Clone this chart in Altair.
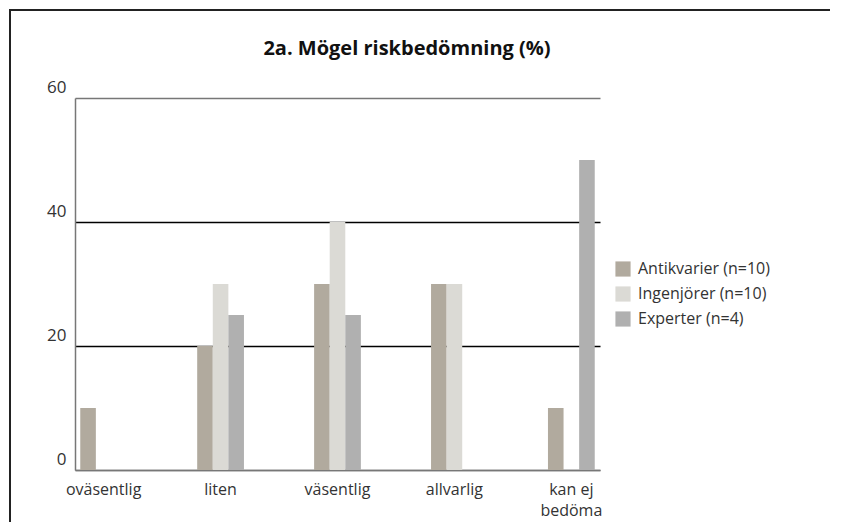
import altair as alt
import pandas as pd

categories = ["oväsentlig", "liten", "väsentlig", "allvarlig", "kan ej bedöma"]
groups = ["Antikvarier (n=10)", "Ingenjörer (n=10)", "Experter (n=4)"]
antikvarier = [10, 20, 30, 30, 10]
ingenjorer = [0, 30, 40, 30, 0]
experter = [0, 25, 25, 0, 50]
colors = ["#b1aa9e", "#dbdad5", "#b0b0b0"]
y_ticks = [0, 20, 40, 60]
title_text = ["2a. Mögel riskbedömning (%)"]

rows = []
for g, vals in zip(groups, [antikvarier, ingenjorer, experter]):
    for c, v in zip(categories, vals):
        rows.append({"kategori": c, "grupp": g, "procent": v})
df = pd.DataFrame(rows)

FONT = "Open Sans"

bars = alt.Chart(df).mark_bar().encode(
    x=alt.X("kategori:N", sort=categories,
            scale=alt.Scale(paddingInner=0.6, paddingOuter=0.045),
            axis=alt.Axis(title=None, labelAngle=0, ticks=False, domain=True,
                          domainColor="#777", domainWidth=1.5,
                          labelFontSize=16, labelColor="#333", labelPadding=11,
                          labelFont=FONT, labelLineHeight=21,
                          labelExpr="datum.label == 'kan ej bedöma' ? ['kan ej', 'bedöma'] : datum.label")),
    xOffset=alt.XOffset("grupp:N", sort=groups, scale=alt.Scale(paddingInner=0, paddingOuter=0)),
    y=alt.Y("procent:Q", scale=alt.Scale(domain=[0, 60], nice=False),
            axis=alt.Axis(title=None, values=y_ticks, ticks=False, domain=True,
                          domainColor="#777", domainWidth=1.5,
                          grid=True,
                          gridColor={"condition": {"test": "datum.value === 60 || datum.value === 0", "value": "#777"}, "value": "#000"},
                          gridWidth=1.3,
                          labelFontSize=17, labelColor="#333", labelPadding=9,
                          labelOffset=-11, labelFont=FONT)),
    color=alt.Color("grupp:N", sort=groups,
                    scale=alt.Scale(domain=groups, range=colors),
                    legend=alt.Legend(title=None, orient="none", legendX=540, legendY=163,
                                      symbolType="square", symbolSize=230,
                                      symbolStrokeWidth=0, labelFontSize=16,
                                      labelColor="#333", labelFont=FONT,
                                      rowPadding=9, labelOffset=7)),
)

title = alt.Chart(pd.DataFrame({"t": title_text})).mark_text(
    font=FONT, fontSize=20, fontWeight="bold", color="#111",
    align="center", baseline="alphabetic").encode(
    text="t:N", x=alt.value(332), y=alt.value(-43))

one = pd.DataFrame({"a": [0]})
border_v = alt.Chart(one).mark_rect(color="#222").encode(
    x=alt.value(-66), x2=alt.value(-64), y=alt.value(-89), y2=alt.value(430))
border_h = alt.Chart(one).mark_rect(color="#222").encode(
    x=alt.value(-66), x2=alt.value(755), y=alt.value(-89), y2=alt.value(-87))

chart = alt.layer(bars, title, border_v, border_h).properties(
    width=525, height=372,
    autosize=alt.AutoSizeParams(type="none"),
    padding={"left": 67, "top": 90, "right": 235, "bottom": 52},
).configure_view(stroke=None).configure_axis(labelFont=FONT)

chart.save("out.html", embed_options={"renderer": "svg", "actions": False})
